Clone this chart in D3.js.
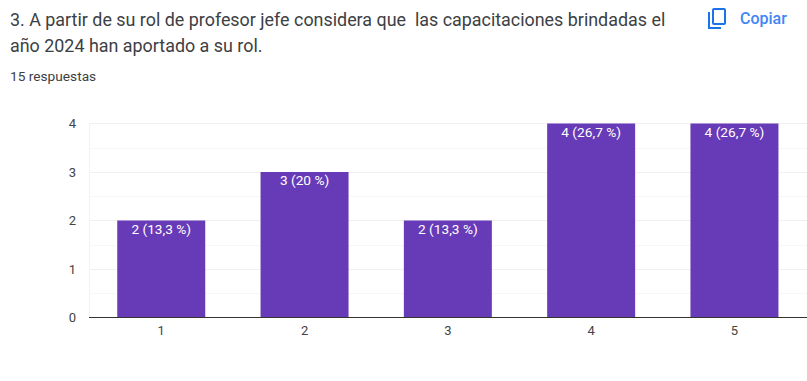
<!DOCTYPE html>
<html><head><meta charset="utf-8">
<script src="https://cdn.jsdelivr.net/npm/d3@7"></script>
<style>html,body{margin:0;padding:0;background:#fff;overflow:hidden}svg{display:block}</style>
</head><body><svg id="c" width="807" height="381"></svg>
<script>
const categories = ["1","2","3","4","5"];
const counts = [2,3,2,4,4];
const barLabels = ["2 (13,3 %)","3 (20 %)","2 (13,3 %)","4 (26,7 %)","4 (26,7 %)"];
const yTicks = [0,1,2,3,4];
const yMinorTicks = [0.5,1.5,2.5,3.5];
const titleLines = ["3. A partir de su rol de profesor jefe considera que  las capacitaciones brindadas el","año 2024 han aportado a su rol."];
const subtitle = "15 respuestas";
const copyLabel = "Copiar";

const svg = d3.select("#c");
const font = "Roboto, Arial, sans-serif";
const x = d3.scaleBand().domain(categories).range([89.6,806.1]).paddingInner(0.386).paddingOuter(0.193);
const y = d3.scaleLinear().domain([0,4]).range([317.5,123.5]);

svg.append("g").selectAll("text").data(titleLines).join("text")
  .attr("x",10).attr("y",(d,i)=>26+i*26).style("white-space","pre")
  .attr("font-family",font).attr("font-size",17.9).attr("fill","#3c4043").text(d=>d);
svg.append("text").attr("x",10).attr("y",81).attr("font-family",font).attr("font-size",13.7).attr("fill","#3c4043").text(subtitle);

// copy icon
const ic = svg.append("g").attr("fill","none").attr("stroke","#1a73e8").attr("stroke-width",2);
ic.append("rect").attr("x",713).attr("y",9).attr("width",12).attr("height",15).attr("rx",1);
ic.append("path").attr("d","M709 12V28H721");
svg.append("text").attr("x",740).attr("y",23.5).attr("font-family",font).attr("font-size",16).attr("font-weight",500).attr("fill","#4285f4").text(copyLabel);

// grid
const g = svg.append("g");
g.selectAll("line.minor").data(yMinorTicks).join("line").attr("class","minor")
  .attr("x1",89).attr("x2",807).attr("y1",d=>Math.round(y(d))+.5).attr("y2",d=>Math.round(y(d))+.5).attr("stroke","#f7f7f7");
g.selectAll("line.major").data(yTicks.slice(1)).join("line").attr("class","major")
  .attr("x1",89).attr("x2",807).attr("y1",d=>Math.floor(y(d))+.5).attr("y2",d=>Math.floor(y(d))+.5).attr("stroke","#f0f0f0");
g.append("line").attr("x1",89.5).attr("x2",89.5).attr("y1",123).attr("y2",317).attr("stroke","#f3f3f3");

// bars
svg.append("g").selectAll("rect").data(categories).join("rect")
  .attr("x",d=>x(d)).attr("width",x.bandwidth())
  .attr("y",(d,i)=>y(counts[i])).attr("height",(d,i)=>y(0)-y(counts[i]))
  .attr("fill","#673ab7");
svg.append("g").selectAll("text").data(categories).join("text")
  .attr("x",d=>x(d)+x.bandwidth()/2).attr("y",(d,i)=>y(counts[i])+13)
  .attr("text-anchor","middle").attr("font-family",font).attr("font-size",13.7).attr("fill","#fff")
  .text((d,i)=>barLabels[i]);

// baseline
svg.append("line").attr("x1",89).attr("x2",807).attr("y1",317.5).attr("y2",317.5).attr("stroke","#333");

// axes
const yAxis = svg.append("g").attr("transform","translate(76,0)").call(d3.axisLeft(y).tickValues(yTicks).tickSize(0).tickPadding(0).tickFormat(d3.format("d")));
yAxis.select(".domain").remove();
yAxis.selectAll("text").attr("font-family",font).attr("font-size",13).attr("fill","#444").attr("dy","0.34em");
const xAxis = svg.append("g").attr("transform","translate(0,317)").call(d3.axisBottom(x).tickSize(0).tickPadding(9));
xAxis.select(".domain").remove();
xAxis.selectAll("text").attr("font-family",font).attr("font-size",13).attr("fill","#444");
</script></body></html>
